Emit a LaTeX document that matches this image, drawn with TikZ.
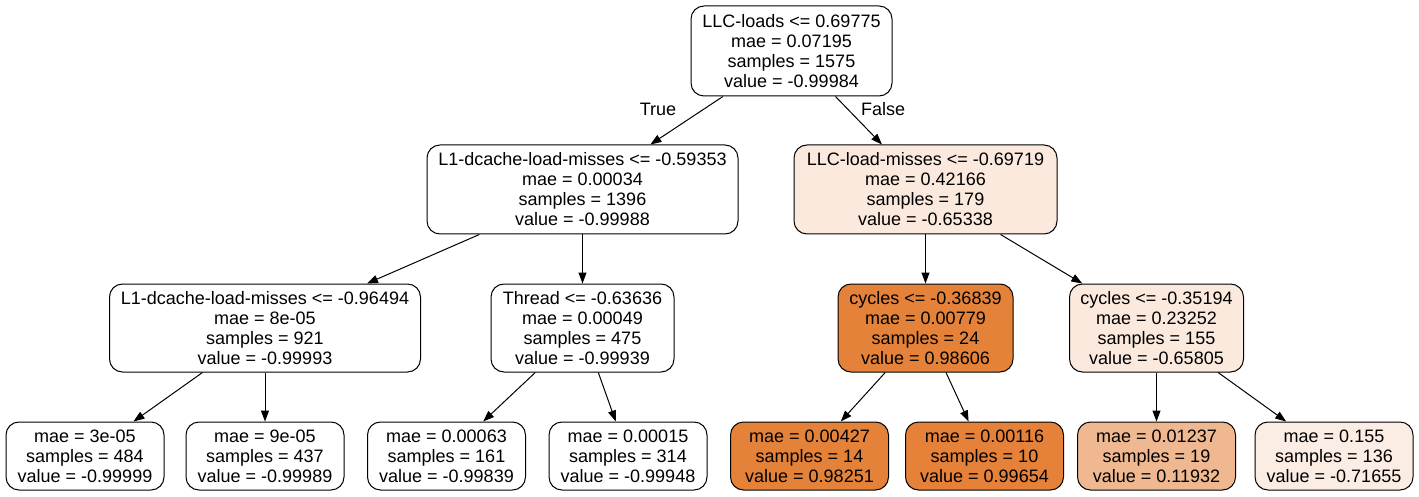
\documentclass[tikz,border=0pt]{standalone}
\usepackage{fontspec}
\setmainfont{Liberation Sans}
\usetikzlibrary{arrows.meta}
\definecolor{fA}{RGB}{251,233,221}
\definecolor{fB}{RGB}{229,130,58}
\definecolor{fC}{RGB}{229,129,57}
\definecolor{fD}{RGB}{240,184,144}
\definecolor{fE}{RGB}{251,237,227}
\begin{document}
\begin{tikzpicture}[x=1pt,y=-1pt,
  tn/.style={draw, line width=1pt, rounded corners=13pt, inner sep=0pt, align=center,
    font=\fontsize{18}{20}\selectfont, minimum height=89pt},
  lf/.style={tn, minimum height=68pt, minimum width=158pt},
  ed/.style={-{Triangle[length=11pt,width=8pt]}, line width=1pt},
  lab/.style={font=\fontsize{18}{20}\selectfont, inner sep=0pt}]
\useasboundingbox (0,0) rectangle (1419,497);
\node[tn, minimum width=201pt, minimum height=90pt] (root) at (791.5,51) {LLC-loads <= 0.69775\\mae = 0.07195\\samples = 1575\\value = -0.99984};
\node[tn, minimum width=311pt] (l1) at (582.5,189.5) {L1-dcache-load-misses <= -0.59353\\mae = 0.00034\\samples = 1396\\value = -0.99988};
\node[tn, minimum width=263pt, fill=fA] (r1) at (925.5,189.5) {LLC-load-misses <= -0.69719\\mae = 0.42166\\samples = 179\\value = -0.65338};
\node[tn, minimum width=311pt, minimum height=88pt] (l2a) at (265,328) {L1-dcache-load-misses <= -0.96494\\mae = 8e-05\\samples = 921\\value = -0.99993};
\node[tn, minimum width=183pt, minimum height=88pt] (l2b) at (582.5,328) {Thread <= -0.63636\\mae = 0.00049\\samples = 475\\value = -0.99939};
\node[tn, minimum width=175pt, minimum height=88pt, fill=fB] (r2a) at (925.5,328) {cycles <= -0.36839\\mae = 0.00779\\samples = 24\\value = 0.98606};
\node[tn, minimum width=174pt, minimum height=88pt, fill=fA] (r2b) at (1156.5,328) {cycles <= -0.35194\\mae = 0.23252\\samples = 155\\value = -0.65805};
\node[lf] (ll1) at (85,456) {mae = 3e-05\\samples = 484\\value = -0.99999};
\node[lf] (ll2) at (265,456) {mae = 9e-05\\samples = 437\\value = -0.99989};
\node[lf] (lr1) at (446.5,456) {mae = 0.00063\\samples = 161\\value = -0.99839};
\node[lf] (lr2) at (628,456) {mae = 0.00015\\samples = 314\\value = -0.99948};
\node[lf, fill=fB] (rl1) at (809.5,456) {mae = 0.00427\\samples = 14\\value = 0.98251};
\node[lf, fill=fC] (rl2) at (984.5,456) {mae = 0.00116\\samples = 10\\value = 0.99654};
\node[lf, fill=fD] (rr1) at (1156.5,456) {mae = 0.01237\\samples = 19\\value = 0.11932};
\node[lf, fill=fE] (rr2) at (1334,456) {mae = 0.155\\samples = 136\\value = -0.71655};
\draw[ed] (root) -- (l1);
\draw[ed] (root) -- (r1);
\draw[ed] (l1) -- (l2a);
\draw[ed] (l1) -- (l2b);
\draw[ed] (r1) -- (r2a);
\draw[ed] (r1) -- (r2b);
\draw[ed] (l2a) -- (ll1);
\draw[ed] (l2a) -- (ll2);
\draw[ed] (l2b) -- (lr1);
\draw[ed] (l2b) -- (lr2);
\draw[ed] (r2a) -- (rl1);
\draw[ed] (r2a) -- (rl2);
\draw[ed] (r2b) -- (rr1);
\draw[ed] (r2b) -- (rr2);
\node[lab] (tl) at (658,109) {True};
\node[lab] (fl) at (883,109) {False};
\end{tikzpicture}
\end{document}
